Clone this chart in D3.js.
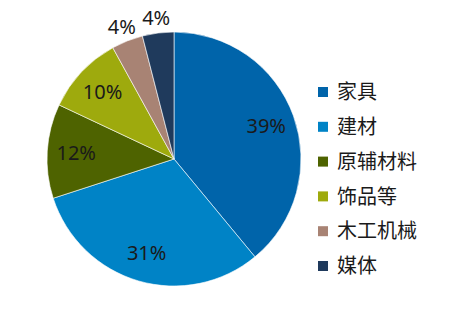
<!DOCTYPE html>
<html><head><meta charset="utf-8">
<script src="https://cdn.jsdelivr.net/npm/d3@7"></script>
<style>body{margin:0;background:#fff}svg{display:block}text{font-family:"Noto Sans CJK SC","Noto Sans",sans-serif;fill:#1a1a1a}</style>
</head><body>
<script>
const categories = ["家具","建材","原辅材料","饰品等","木工机械","媒体"];
const values = [39,31,12,10,4,4];
const labels = ["39%","31%","12%","10%","4%","4%"];
const colors = ["#0064AA","#0083C6","#4E6300","#9EAA0D","#A88374","#1F3A5C"];
const outside = [false,false,false,false,true,true];

const W=475,H=317,cx=174,cy=159,R=127;
const svg=d3.select("body").append("svg").attr("width",W).attr("height",H);
const g=svg.append("g").attr("transform",`translate(${cx},${cy})`);
const pie=d3.pie().sort(null).value(d=>d)(values);
const arc=d3.arc().innerRadius(0).outerRadius(R);
g.selectAll("path").data(pie).join("path").attr("d",arc)
 .attr("fill",(d,i)=>colors[i]).attr("stroke","#fff").attr("stroke-width",0.6);
const lab=d3.arc().innerRadius(98).outerRadius(98);
const labOut=d3.arc().innerRadius(142).outerRadius(142);
g.selectAll("text.l").data(pie).join("text").attr("class","l")
 .attr("transform",(d,i)=>`translate(${(outside[i]?labOut:lab).centroid(d)})`)
 .attr("text-anchor","middle").attr("dy","0.36em").style("font-family","'Noto Sans',sans-serif").style("font-size","20px")
 .text((d,i)=>labels[i]);

const leg=svg.append("g");
const y0=92,step=34.8;
categories.forEach((c,i)=>{
  leg.append("rect").attr("x",318).attr("y",y0+i*step-5).attr("width",10).attr("height",10).attr("fill",colors[i]);
  leg.append("text").attr("x",337).attr("y",y0+i*step).attr("dy","0.36em").style("font-size","20px").text(c);
});
</script>
</body></html>
